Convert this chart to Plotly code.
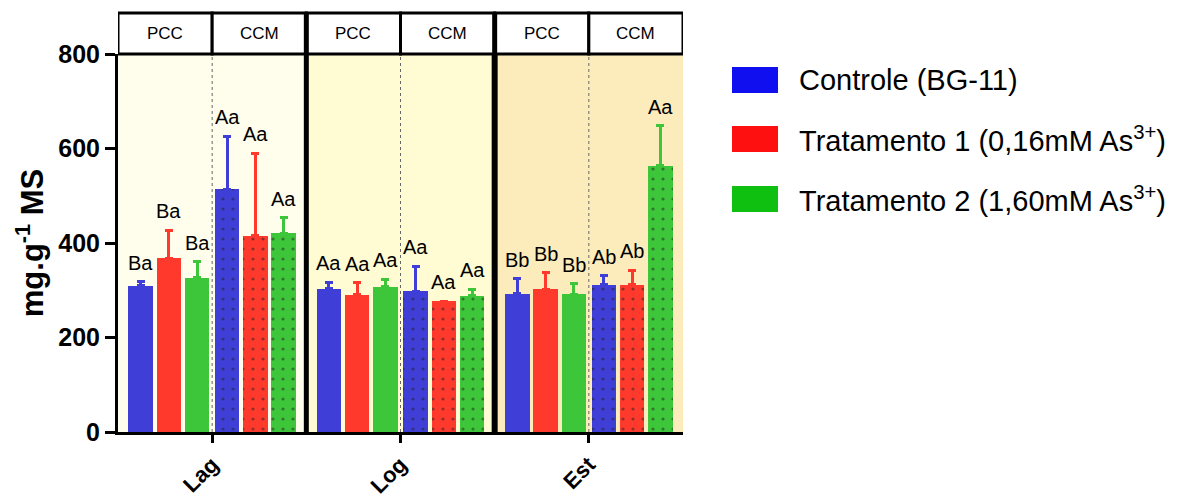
import plotly.graph_objects as go

# Growth phases (x categories) and culture medium groups
phases = ["Lag", "Log", "Est"]
media = ["PCC", "CCM"]
treatments = ["Controle (BG-11)", "Tratamento 1 (0,16mM As<sup>3+</sup>)",
              "Tratamento 2 (1,60mM As<sup>3+</sup>)"]

# Means (mg.g-1 MS) per phase, for each medium and treatment
pcc_ctrl = [310, 303, 293]
pcc_t1 = [368, 290, 302]
pcc_t2 = [326, 307, 292]
ccm_ctrl = [514, 298, 312]
ccm_t1 = [415, 277, 312]
ccm_t2 = [421, 288, 563]

# Standard deviations (upper whisker only)
pcc_ctrl_sd = [8, 14, 31]
pcc_t1_sd = [59, 26, 35]
pcc_t2_sd = [34, 16, 22]
ccm_ctrl_sd = [112, 53, 19]
ccm_t1_sd = [175, 0, 30]
ccm_t2_sd = [32, 14, 85]

# Statistical letters
pcc_ctrl_lbl = ["Ba", "Aa", "Bb"]
pcc_t1_lbl = ["Ba", "Aa", "Bb"]
pcc_t2_lbl = ["Ba", "Aa", "Bb"]
ccm_ctrl_lbl = ["Aa", "Aa", "Ab"]
ccm_t1_lbl = ["Aa", "Aa", "Ab"]
ccm_t2_lbl = ["Aa", "Aa", "Aa"]

bar_colors = ["#3f3fd8", "#ff3a2c", "#3ec63a"]
legend_colors = ["#0f0ff0", "#ff1010", "#10c010"]
panel_bg = ["#fffdeb", "#fffbd2", "#fdecbb"]

series = [
    ("PCC", 0, pcc_ctrl, pcc_ctrl_sd, pcc_ctrl_lbl),
    ("PCC", 1, pcc_t1, pcc_t1_sd, pcc_t1_lbl),
    ("PCC", 2, pcc_t2, pcc_t2_sd, pcc_t2_lbl),
    ("CCM", 0, ccm_ctrl, ccm_ctrl_sd, ccm_ctrl_lbl),
    ("CCM", 1, ccm_t1, ccm_t1_sd, ccm_t1_lbl),
    ("CCM", 2, ccm_t2, ccm_t2_sd, ccm_t2_lbl),
]

# bar slot offsets within each phase (in category units)
bar_w = 0.13
offsets = [-0.445, -0.295, -0.145, 0.015, 0.165, 0.315]
xc = list(range(len(phases)))

annotations = []
fig = go.Figure()
for k, (medium, t, vals, sd, lbl) in enumerate(series):
    col = bar_colors[t]
    marker = dict(color=col, line=dict(width=0))
    if medium == "CCM":
        marker["pattern"] = dict(shape=".", fgcolor="#222222", size=10,
                                 solidity=0.08)
    fig.add_trace(go.Bar(
        x=xc, y=vals, width=bar_w, offset=offsets[k], marker=marker,
        error_y=dict(type="data", symmetric=False, array=sd,
                     arrayminus=[0] * len(sd), color=col, thickness=3,
                     width=4),
        showlegend=False, hoverinfo="y",
    ))
    # significance letters just above each whisker
    for c, v, s, txt in zip(xc, vals, sd, lbl):
        annotations.append(dict(
            x=c + offsets[k] + bar_w / 2, y=v + s, xref="x", yref="y",
            text=txt, showarrow=False, xanchor="center", yanchor="bottom",
            yshift=6, font=dict(family="Arial", size=20, color="black")))

shapes = []
# phase backgrounds
for i, c in enumerate(panel_bg):
    shapes.append(dict(type="rect", xref="x", yref="paper", x0=i - 0.5,
                       x1=i + 0.5, y0=0, y1=1, fillcolor=c,
                       line=dict(width=0), layer="below"))
    # dotted divider between PCC and CCM
    shapes.append(dict(type="line", xref="x", yref="paper", x0=i, x1=i,
                       y0=0, y1=1, line=dict(color="#666666", width=1,
                                             dash="dot"), layer="below"))
# thick dividers between phases
for xb, lw in [(0.5, 5), (1.5, 6)]:
    shapes.append(dict(type="line", xref="x", yref="paper", x0=xb, x1=xb,
                       y0=0, y1=1, line=dict(color="black", width=lw)))

# header boxes with medium names
head_top = 1 + 41 / 378
for i in range(len(phases)):
    for j, m in enumerate(media):
        x0 = i - 0.5 + 0.5 * j
        shapes.append(dict(type="rect", xref="x", yref="paper", x0=x0,
                           x1=x0 + 0.5, y0=1, y1=head_top,
                           fillcolor="white",
                           line=dict(color="black", width=3)))
        annotations.append(dict(x=x0 + 0.25, y=(1 + head_top) / 2,
                                xref="x", yref="paper", text=m,
                                xanchor="center", yanchor="middle",
                                showarrow=False,
                                font=dict(family="Arial", size=17,
                                          color="black")))
for xb in [0.5, 1.5]:
    shapes.append(dict(type="line", xref="x", yref="paper", x0=xb, x1=xb,
                       y0=1, y1=head_top, line=dict(color="black", width=5)))

# legend drawn as coloured blocks with labels
px_w = 565.0
px_h = 378.0
leg_rows = [80, 139, 199]
for col, name, yc in zip(legend_colors, treatments, leg_rows):
    shapes.append(dict(type="rect", xref="paper", yref="paper",
                       x0=(732 - 118) / px_w, x1=(778 - 118) / px_w,
                       y0=(432 - yc - 13) / px_h, y1=(432 - yc + 13) / px_h,
                       fillcolor=col, line=dict(width=0)))
    annotations.append(dict(x=(797 - 118) / px_w, y=(432 - yc) / px_h,
                            xref="paper", yref="paper", text=name,
                            xanchor="left", yanchor="middle",
                            showarrow=False,
                            font=dict(family="Arial", size=29,
                                      color="black")))

fig.update_layout(
    width=1192, height=499,
    margin=dict(l=118, r=509, t=54, b=67),
    paper_bgcolor="white", plot_bgcolor="white",
    shapes=shapes, annotations=annotations,
    bargap=0, showlegend=False,
    xaxis=dict(range=[-0.5, 2.5], tickvals=xc, ticktext=phases,
               tickangle=-45, ticks="outside", ticklen=8, tickwidth=3,
               tickcolor="black", showline=True, linewidth=3,
               linecolor="black", showgrid=False, zeroline=False,
               automargin=False,
               tickfont=dict(family="Arial", size=22, color="black",
                             weight="bold")),
    yaxis=dict(range=[0, 800], tickvals=[0, 200, 400, 600, 800],
               ticks="outside", ticklen=10, tickwidth=3, tickcolor="black",
               showline=True, linewidth=3, linecolor="black",
               showgrid=False, zeroline=False, automargin=False,
               tickfont=dict(family="Arial", size=25, color="black",
                             weight="bold"),
               title=dict(text="mg.g<sup>-1</sup> MS", standoff=6,
                          font=dict(family="Arial", size=31, color="black",
                                    weight="bold"))),
)

fig.write_html("out.html")
